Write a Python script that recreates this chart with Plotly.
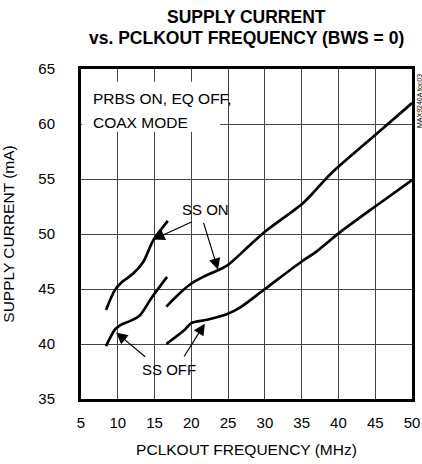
import plotly.graph_objects as go

# SS ON / SS OFF, low-frequency range
on_low_x = [8.4, 9.6, 10.5, 12.1, 13.5, 14.8, 16.8]
on_low_y = [43.1, 44.9, 45.6, 46.4, 47.5, 49.4, 51.2]
off_low_x = [8.4, 9.6, 10.3, 11.7, 13.0, 14.6, 16.7]
off_low_y = [39.8, 41.3, 41.7, 42.1, 42.6, 44.2, 46.1]

# SS ON / SS OFF, high-frequency range
on_high_x = [16.6, 18.9, 20.0, 21.6, 23.6, 25.0, 27.5, 30.0, 35.0, 36.5, 39.0, 45.0, 50.0]
on_high_y = [43.4, 44.9, 45.5, 46.1, 46.7, 47.2, 48.7, 50.2, 52.7, 53.7, 55.5, 59.0, 61.9]
off_high_x = [16.6, 19.1, 20.0, 22.1, 24.8, 26.6, 30.0, 35.0, 37.0, 40.1, 45.0, 50.0]
off_high_y = [40.0, 41.3, 41.9, 42.2, 42.7, 43.3, 45.0, 47.5, 48.4, 50.1, 52.5, 54.9]

x_ticks = [5, 10, 15, 20, 25, 30, 35, 40, 45, 50]
y_ticks = [35, 40, 45, 50, 55, 60, 65]

FONT = "Liberation Sans, Arial, sans-serif"

fig = go.Figure()
for xs, ys in [(on_low_x, on_low_y), (off_low_x, off_low_y),
               (on_high_x, on_high_y), (off_high_x, off_high_y)]:
    fig.add_trace(go.Scatter(x=xs, y=ys, mode="lines",
                             line=dict(color="black", width=2.7, shape="spline", smoothing=0.8),
                             showlegend=False, hoverinfo="skip"))

arrows = [
    (20.24, 51.15, 14.82, 49.5),
    (21.6, 51.15, 23.63, 46.75),
    (13.93, 38.73, 9.77, 41.05),
    (18.89, 38.73, 21.83, 41.85),
]
annotations = []
for tx, ty, hx, hy in arrows:
    annotations.append(dict(x=hx, y=hy, ax=tx, ay=ty, xref="x", yref="y",
                            axref="x", ayref="y", text="", showarrow=True,
                            arrowhead=2, arrowsize=1.9, arrowwidth=1.2,
                            arrowcolor="black", standoff=0, startstandoff=0))

annotations += [
    dict(x=0.5, y=1.0, xref="paper", yref="paper", xanchor="center", yanchor="middle",
         yshift=52, showarrow=False, text="<b>SUPPLY CURRENT</b>",
         font=dict(family=FONT, size=17.5, color="black")),
    dict(x=0.5, y=1.0, xref="paper", yref="paper", xanchor="center", yanchor="middle",
         yshift=31, showarrow=False, text="<b>vs. PCLKOUT FREQUENCY (BWS = 0)</b>",
         font=dict(family=FONT, size=17.5, color="black")),
    dict(x=21.9, y=52.27, text="SS ON", showarrow=False, xref="x", yref="y",
         font=dict(family=FONT, size=15, color="black")),
    dict(x=16.95, y=37.66, text="SS OFF", showarrow=False, xref="x", yref="y",
         font=dict(family=FONT, size=15, color="black")),
    dict(x=6.35, y=62.28, xref="x", yref="y", xanchor="left", yanchor="middle",
         text="PRBS ON, EQ OFF,", showarrow=False,
         font=dict(family=FONT, size=15.5, color="black")),
    dict(x=6.35, y=60.1, xref="x", yref="y", xanchor="left", yanchor="middle",
         text="COAX MODE", showarrow=False,
         font=dict(family=FONT, size=15.5, color="black")),
    dict(x=1.0, y=1.0, xref="paper", yref="paper", xanchor="center", yanchor="top",
         xshift=7, yshift=-3, text="MAX9240A toc03", textangle=-90, showarrow=False,
         font=dict(family=FONT, size=7, color="black")),
]

fig.update_layout(
    width=422, height=464,
    margin=dict(l=81, r=10, t=69, b=65),
    paper_bgcolor="white", plot_bgcolor="white",
    annotations=annotations,
    shapes=[dict(type="rect", xref="x", yref="y", x0=5.15, x1=23.9, y0=59.3, y1=63.85,
                 fillcolor="white", line=dict(width=0), layer="between")],
    font=dict(family=FONT, color="black"),
)
fig.update_xaxes(range=[5, 50], tickvals=x_ticks, showgrid=True, gridcolor="#444",
                 gridwidth=1, showline=True, linecolor="black", linewidth=3, mirror=True,
                 ticks="", zeroline=False, automargin=False,
                 tickfont=dict(family=FONT, size=15), ticklabelstandoff=8,
                 title=dict(text="PCLKOUT FREQUENCY (MHz)", standoff=15,
                            font=dict(family=FONT, size=15.5)))
fig.update_yaxes(range=[35, 65], tickvals=y_ticks, showgrid=True, gridcolor="#444",
                 gridwidth=1, showline=True, linecolor="black", linewidth=3, mirror=True,
                 ticks="", zeroline=False, automargin=False,
                 tickfont=dict(family=FONT, size=15), ticklabelstandoff=20,
                 title=dict(text="SUPPLY CURRENT (mA)", standoff=26,
                            font=dict(family=FONT, size=15.5)))

fig.write_html("out.html", config={"displayModeBar": False},
               post_script="document.body.style.margin='0';document.body.style.padding='0';")
